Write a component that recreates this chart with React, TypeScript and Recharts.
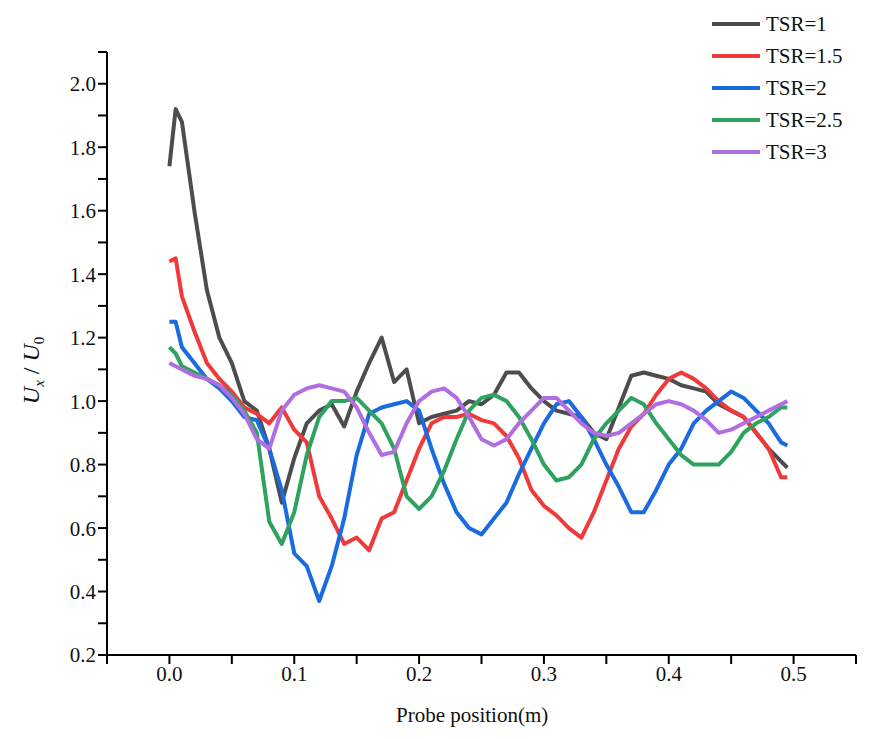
import React from 'react';
import { LineChart, Line, XAxis, YAxis } from 'recharts';

const xs = [0, 0.005, 0.01, 0.02, 0.03, 0.04, 0.05, 0.06, 0.07, 0.08, 0.09, 0.1, 0.11, 0.12, 0.13, 0.14, 0.15, 0.16, 0.17, 0.18, 0.19, 0.2, 0.21, 0.22, 0.23, 0.24, 0.25, 0.26, 0.27, 0.28, 0.29, 0.3, 0.31, 0.32, 0.33, 0.34, 0.35, 0.36, 0.37, 0.38, 0.39, 0.4, 0.41, 0.42, 0.43, 0.44, 0.45, 0.46, 0.47, 0.48, 0.49, 0.495];

const tsr1 = [1.74, 1.92, 1.88, 1.6, 1.35, 1.2, 1.12, 1.0, 0.97, 0.85, 0.68, 0.82, 0.93, 0.97, 0.99, 0.92, 1.03, 1.12, 1.2, 1.06, 1.1, 0.93, 0.95, 0.96, 0.97, 1.0, 0.99, 1.02, 1.09, 1.09, 1.04, 1.0, 0.97, 0.96, 0.95, 0.9, 0.88, 0.98, 1.08, 1.09, 1.08, 1.07, 1.05, 1.04, 1.03, 0.99, 0.97, 0.95, 0.9, 0.85, 0.81, 0.79];
const tsr15 = [1.44, 1.45, 1.33, 1.22, 1.12, 1.07, 1.03, 0.98, 0.96, 0.93, 0.98, 0.91, 0.87, 0.7, 0.63, 0.55, 0.57, 0.53, 0.63, 0.65, 0.75, 0.85, 0.93, 0.95, 0.95, 0.96, 0.94, 0.93, 0.89, 0.82, 0.72, 0.67, 0.64, 0.6, 0.57, 0.65, 0.75, 0.85, 0.92, 0.96, 1.02, 1.07, 1.09, 1.07, 1.04, 1.0, 0.97, 0.95, 0.9, 0.85, 0.76, 0.76];
const tsr2 = [1.25, 1.25, 1.17, 1.12, 1.07, 1.04, 1.0, 0.95, 0.94, 0.85, 0.72, 0.52, 0.48, 0.37, 0.48, 0.63, 0.83, 0.96, 0.98, 0.99, 1.0, 0.97, 0.85, 0.74, 0.65, 0.6, 0.58, 0.63, 0.68, 0.77, 0.85, 0.93, 0.99, 1.0, 0.95, 0.88, 0.8, 0.73, 0.65, 0.65, 0.72, 0.8, 0.85, 0.93, 0.97, 1.0, 1.03, 1.01, 0.97, 0.93, 0.87, 0.86];
const tsr25 = [1.17, 1.15, 1.11, 1.09, 1.07, 1.05, 1.02, 0.97, 0.9, 0.62, 0.55, 0.65, 0.83, 0.95, 1.0, 1.0, 1.01, 0.97, 0.93, 0.85, 0.7, 0.66, 0.7, 0.78, 0.88, 0.97, 1.01, 1.02, 1.0, 0.95, 0.88, 0.8, 0.75, 0.76, 0.8, 0.88, 0.93, 0.97, 1.01, 0.99, 0.93, 0.88, 0.83, 0.8, 0.8, 0.8, 0.84, 0.9, 0.93, 0.95, 0.98, 0.98];
const tsr3 = [1.12, 1.11, 1.1, 1.08, 1.07, 1.05, 1.01, 0.96, 0.88, 0.85, 0.97, 1.02, 1.04, 1.05, 1.04, 1.03, 0.98, 0.9, 0.83, 0.84, 0.93, 1.0, 1.03, 1.04, 1.01, 0.95, 0.88, 0.86, 0.88, 0.93, 0.97, 1.01, 1.01, 0.97, 0.93, 0.9, 0.89, 0.9, 0.93, 0.96, 0.99, 1.0, 0.99, 0.97, 0.94, 0.9, 0.91, 0.93, 0.95, 0.97, 0.99, 1.0];

const xTicks = [-0.05, 0, 0.05, 0.1, 0.15, 0.2, 0.25, 0.3, 0.35, 0.4, 0.45, 0.5, 0.55];
const yTicks = [0.2, 0.3, 0.4, 0.5, 0.6, 0.7, 0.8, 0.9, 1.0, 1.1, 1.2, 1.3, 1.4, 1.5, 1.6, 1.7, 1.8, 1.9, 2.0, 2.1];

const series = [
  { key: 'tsr1', name: 'TSR=1', color: '#4d4d4d', values: tsr1 },
  { key: 'tsr15', name: 'TSR=1.5', color: '#f03a3a', values: tsr15 },
  { key: 'tsr2', name: 'TSR=2', color: '#1a6ae0', values: tsr2 },
  { key: 'tsr25', name: 'TSR=2.5', color: '#2ea25e', values: tsr25 },
  { key: 'tsr3', name: 'TSR=3', color: '#b06ee0', values: tsr3 },
];

const data = xs.map((x, i) => {
  const row: Record<string, number> = { x };
  series.forEach(s => { row[s.key] = s.values[i]; });
  return row;
});

const font = '"Liberation Serif", "DejaVu Serif", serif';
const isMajor = (v: number, step: number) => Math.abs(Math.round(v / step) * step - v) < 1e-6;

export default function App() {
  return (
    <div style={{ position: 'absolute', left: 0, top: 0, width: 885, height: 739, background: '#fff', fontFamily: font }}>
      <LineChart width={885} height={739} data={data} margin={{ top: 52, right: 29, left: 57, bottom: 34 }}>
        <XAxis
          dataKey="x" type="number" domain={[-0.05, 0.55]} ticks={xTicks} allowDataOverflow
          tickFormatter={(v: number) => (isMajor(v, 0.1) && v >= 0 && v <= 0.5 ? v.toFixed(1) : '')}
          tick={{ fill: '#111', fontSize: 21, fontFamily: font }} tickSize={9} height={50}
          axisLine={{ stroke: '#000', strokeWidth: 2 }} tickLine={{ stroke: '#000', strokeWidth: 2 }}
        />
        <YAxis
          type="number" domain={[0.2, 2.1]} ticks={yTicks} allowDataOverflow
          tickFormatter={(v: number) => (isMajor(v, 0.2) && v < 2.05 ? v.toFixed(1) : '')}
          tick={{ fill: '#111', fontSize: 21, fontFamily: font }} tickSize={9} width={50}
          axisLine={{ stroke: '#000', strokeWidth: 2 }} tickLine={{ stroke: '#000', strokeWidth: 2 }}
        />
        {series.map(s => (
          <Line key={s.key} dataKey={s.key} name={s.name} stroke={s.color} strokeWidth={4}
            dot={false} isAnimationActive={false} type="linear" strokeLinejoin="round" />
        ))}
      </LineChart>
      <div style={{ position: 'absolute', left: 396, top: 703, fontSize: 21, color: '#111' }}>Probe position(m)</div>
      <div style={{ position: 'absolute', left: -12, top: 355, transform: 'rotate(-90deg)', fontSize: 24, color: '#111', whiteSpace: 'nowrap', width: 90, textAlign: 'center' }}>
        <i>U</i><sub style={{ fontSize: 15 }}><i>x</i></sub> / <i>U</i><sub style={{ fontSize: 15 }}>0</sub>
      </div>
      <div style={{ position: 'absolute', left: 712, top: 8 }}>
        {series.map(s => (
          <div key={s.key} style={{ display: 'flex', alignItems: 'center', height: 32 }}>
            <div style={{ width: 48, height: 4, background: s.color, marginRight: 6 }} />
            <span style={{ fontSize: 21, color: '#111' }}>{s.name}</span>
          </div>
        ))}
      </div>
    </div>
  );
}
